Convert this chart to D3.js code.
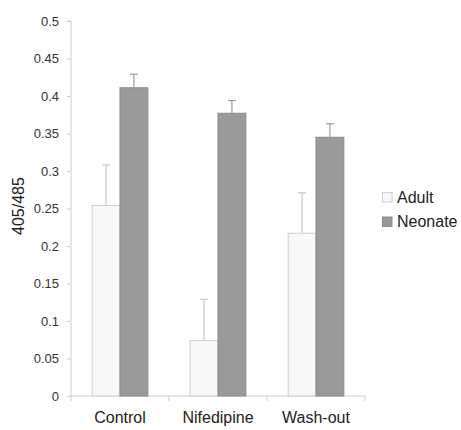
<!DOCTYPE html>
<html>
<head>
<meta charset="utf-8">
<script src="https://cdn.jsdelivr.net/npm/d3@7"></script>
<style>
  body { margin: 0; background: #fff; }
  svg { display: block; font-family: "Liberation Sans", Arial, sans-serif; }
</style>
</head>
<body>
<svg id="chart" width="461" height="430"></svg>
<script>
// Ratio 405/485 by condition, adult vs neonate (mean with upper SE bar)
const categories = ["Control", "Nifedipine", "Wash-out"];
const seriesNames = ["Adult", "Neonate"];
const adultMean = [0.254, 0.074, 0.217];
const adultErr = [0.054, 0.055, 0.054];
const neonateMean = [0.411, 0.377, 0.345];
const neonateErr = [0.018, 0.017, 0.018];
const yTicks = [0, 0.05, 0.1, 0.15, 0.2, 0.25, 0.3, 0.35, 0.4, 0.45, 0.5];

const series = [
  { name: seriesNames[0], mean: adultMean, err: adultErr, fill: "#f8f8f8", stroke: "#cfcfcf", errColor: "#c8c8c8" },
  { name: seriesNames[1], mean: neonateMean, err: neonateErr, fill: "#9a9a9a", stroke: "#8a8a8a", errColor: "#9a9a9a" }
];

const svg = d3.select("#chart");
const plotLeft = 71, plotRight = 365, plotTop = 21, plotBottom = 396;

const x = d3.scaleBand().domain(categories).range([plotLeft, plotRight]).paddingInner(0).paddingOuter(0);
const x1 = d3.scaleBand().domain(seriesNames).range([0, x.bandwidth()]).paddingOuter(0.76).paddingInner(0);
const y = d3.scaleLinear().domain([0, 0.5]).range([plotBottom, plotTop]);

// y axis
const yAxis = d3.axisLeft(y).tickValues(yTicks).tickSize(4).tickPadding(8)
  .tickFormat(d => String(+d.toFixed(2)));
const gy = svg.append("g").attr("transform", `translate(${plotLeft},0)`).call(yAxis);
gy.select(".domain").attr("stroke", "#cccccc").attr("d", `M-4,${plotTop}H0V${plotBottom + 5}`);
gy.selectAll(".tick line").attr("stroke", "#cccccc");
gy.selectAll(".tick text").attr("fill", "#333").style("font-size", "13px");

// x axis
const gx = svg.append("g").attr("transform", `translate(0,${plotBottom})`)
  .call(d3.axisBottom(x).tickSize(0).tickPadding(16));
gx.select(".domain").attr("stroke", "#cccccc").attr("d", `M${plotLeft},0H${plotRight}`);
gx.selectAll(".tick text").attr("fill", "#222").style("font-size", "16px");
// boundary ticks between categories
svg.append("g").selectAll("line")
  .data(categories)
  .join("line")
  .attr("x1", d => x(d) + x.bandwidth()).attr("x2", d => x(d) + x.bandwidth())
  .attr("y1", plotBottom).attr("y2", plotBottom + 5)
  .attr("stroke", "#cccccc");

// bars and error bars
series.forEach(s => {
  const g = svg.append("g");
  categories.forEach((c, i) => {
    const bx = x(c) + x1(s.name);
    const bw = x1.bandwidth();
    const cx = bx + bw / 2;
    const yTop = y(s.mean[i] + s.err[i]);
    g.append("line")
      .attr("x1", cx).attr("x2", cx)
      .attr("y1", y(s.mean[i])).attr("y2", yTop)
      .attr("stroke", s.errColor).attr("stroke-width", 1.2);
    g.append("line")
      .attr("x1", cx - 4).attr("x2", cx + 4)
      .attr("y1", yTop).attr("y2", yTop)
      .attr("stroke", s.errColor).attr("stroke-width", 1.2);
    g.append("rect")
      .attr("x", bx).attr("y", y(s.mean[i]))
      .attr("width", bw).attr("height", plotBottom - y(s.mean[i]))
      .attr("fill", s.fill).attr("stroke", s.stroke).attr("stroke-width", 1);
  });
});

// y axis title
svg.append("text")
  .attr("transform", `translate(24,206) rotate(-90)`)
  .attr("text-anchor", "middle")
  .attr("fill", "#222")
  .style("font-size", "16px")
  .text("405/485");

// legend
const legend = svg.append("g").attr("transform", "translate(382.5,192.5)");
series.forEach((s, i) => {
  const row = legend.append("g").attr("transform", `translate(0,${i * 24.5})`);
  row.append("rect").attr("x", 0).attr("y", 0).attr("width", 9.5).attr("height", 9.5)
    .attr("fill", s.fill).attr("stroke", s.stroke);
  row.append("text").attr("x", 14.5).attr("y", 10)
    .attr("fill", "#222").style("font-size", "16px").text(s.name);
});
</script>
</body>
</html>
